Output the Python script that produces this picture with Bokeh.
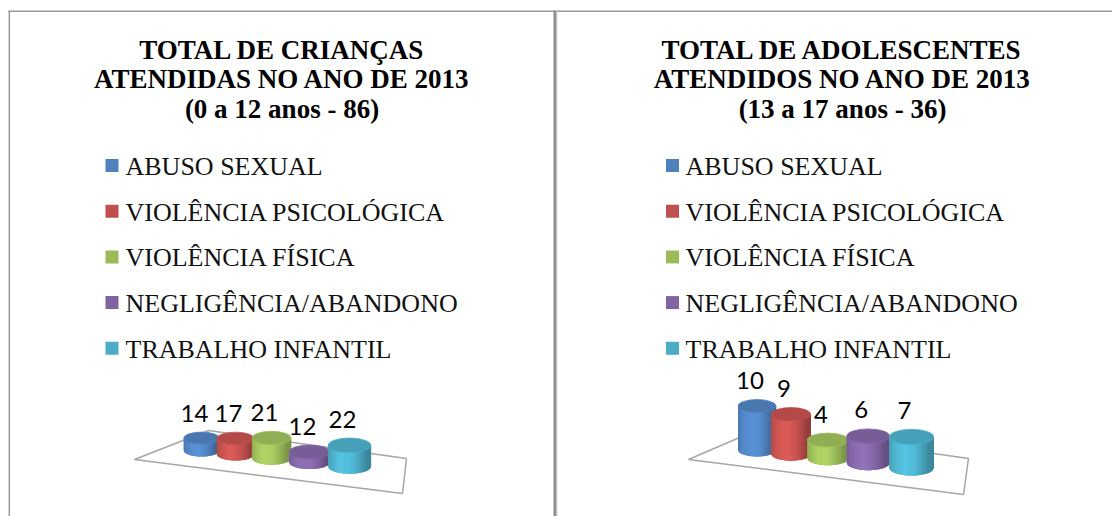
import math
from bokeh.plotting import figure
from bokeh.models import Range1d
from bokeh.core.properties import value
from bokeh.embed import file_html
from bokeh.resources import INLINE

# ---------------- data ----------------
categories = ["ABUSO SEXUAL", "VIOLÊNCIA PSICOLÓGICA", "VIOLÊNCIA FÍSICA",
              "NEGLIGÊNCIA/ABANDONO", "TRABALHO INFANTIL"]
criancas = [14, 17, 21, 12, 22]
adolescentes = [10, 9, 4, 6, 7]
title_criancas = ["TOTAL DE CRIANÇAS", "ATENDIDAS NO ANO DE 2013", "(0 a 12 anos - 86)"]
title_adolescentes = ["TOTAL DE ADOLESCENTES", "ATENDIDOS NO ANO DE 2013", "(13 a 17 anos - 36)"]

# ---------------- styles ----------------
colors = [(79, 129, 189), (192, 80, 77), (155, 187, 89), (128, 100, 162), (75, 172, 198)]
SERIF = value("Liberation Serif")
SANS = value("Lato")


def hexc(rgb, k):
    return "#%02x%02x%02x" % tuple(max(0, min(255, int(round(c * k)))) for c in rgb)


W, H = 1112, 516
p = figure(width=W, height=H, x_range=Range1d(0, W), y_range=Range1d(H, 0),
           output_backend="svg", toolbar_location=None, min_border=0,
           x_axis_location=None, y_axis_location=None)
p.grid.visible = False
p.outline_line_color = None
p.background_fill_color = "white"
p.border_fill_color = "white"

# panel frames
p.line([8, W], [10.8, 10.8], line_color="#9a9a9a", line_width=1.5)
p.line([8.8, 8.8], [10, H], line_color="#9a9a9a", line_width=1.5)
p.line([554.5, 554.5], [10, H], line_color="#8c8c8c", line_width=3)
p.line([556.5, 556.5], [10, H], line_color="#cfcfcf", line_width=1)

# panel layouts
panels = [
    dict(title=title_criancas, vals=criancas, tx=281.5, sqx=111.5, lx=125,
         floor=([208, 406, 402, 134], [430, 458, 493, 459]),
         x0=201, b=33.0, c=1.0, w0=35.5, dw=1.8, y0=450, slope=0.108,
         hs=1.1, h0=-3.0),
    dict(title=title_adolescentes, vals=adolescentes, tx=842, sqx=672, lx=685,
         floor=([760, 968, 963, 688], [428, 458, 494, 459]),
         x0=756.5, b=32.375, c=1.5625, w0=38.0, dw=1.6, y0=449.5, slope=0.1165,
         hs=4.3, h0=1.0),
]

for P in panels:
    # title
    p.text(x=[P["tx"]] * 3, y=[49, 78.5, 108], text=P["title"], text_font=SERIF,
           text_font_style="bold", text_font_size="27px", text_align="center",
           text_baseline="middle", text_color="black")
    # legend
    ys = [165 + 45.7 * i for i in range(len(categories))]
    p.rect(x=[P["sqx"]] * len(categories), y=ys, width=13, height=13,
           fill_color=[hexc(c, 1.0) for c in colors], line_color=None)
    p.text(x=[P["lx"]] * len(categories), y=[y + 1 for y in ys], text=categories,
           text_font=SERIF, text_font_size="26px", text_align="left",
           text_baseline="middle", text_color="#111111")
    # floor
    fx, fy = P["floor"]
    p.patch(fx + [fx[0]], fy + [fy[0]], fill_color=None, line_color="#a6a6a6", line_width=1.5)

    # cylinders
    lab_x, lab_y, lab_t = [], [], []
    for i, v in enumerate(P["vals"]):
        cx = P["x0"] + P["b"] * i + P["c"] * i * i
        w = P["w0"] + P["dw"] * i
        rx = w / 2.0
        ry = 0.17 * w
        base = P["y0"] + P["slope"] * (cx - P["x0"])
        top = base - (P["hs"] * v + P["h0"])
        col = colors[i]
        n = 40
        # solid body underneath
        bx = [cx - rx, cx + rx] + [cx + rx * math.cos(math.pi * a / 30) for a in range(31)]
        by = [top, top] + [base + ry * math.sin(math.pi * a / 30) for a in range(31)]
        p.patch(bx, by, fill_color=hexc(col, 0.95), line_color=None)
        xs, yss, fills = [], [], []
        for j in range(n):
            t0 = -1 + 2.0 * j / n
            t1 = -1 + 2.0 * (j + 1) / n
            tm = (t0 + t1) / 2
            light = math.cos((tm + 0.25) * math.pi / 2 * 0.95)
            k = 0.78 + 0.36 * max(0.0, light)
            xl, xr = cx + t0 * rx, cx + t1 * rx
            bl = base + ry * math.sqrt(max(0.0, 1 - t0 * t0))
            br = base + ry * math.sqrt(max(0.0, 1 - t1 * t1))
            xs.append([xl, xr + 0.3, xr + 0.3, xl])
            yss.append([top, top, br, bl])
            fills.append(hexc(col, k))
        p.patches(xs, yss, fill_color=fills, line_color=None)
        p.ellipse(x=[cx], y=[top], width=[w], height=[2 * ry], width_units="screen",
                  height_units="screen", fill_color=hexc(col, 0.93),
                  line_color=hexc(col, 1.02), line_width=0.8)
        lab_x.append(cx - 7)
        lab_y.append(top - ry - 19)
        lab_t.append(str(v))
    p.text(x=lab_x, y=lab_y, text=lab_t, text_font=SANS, text_font_size="24px",
           text_align="center", text_baseline="middle", text_color="black")

open("out.html", "w").write(file_html(p, INLINE))
